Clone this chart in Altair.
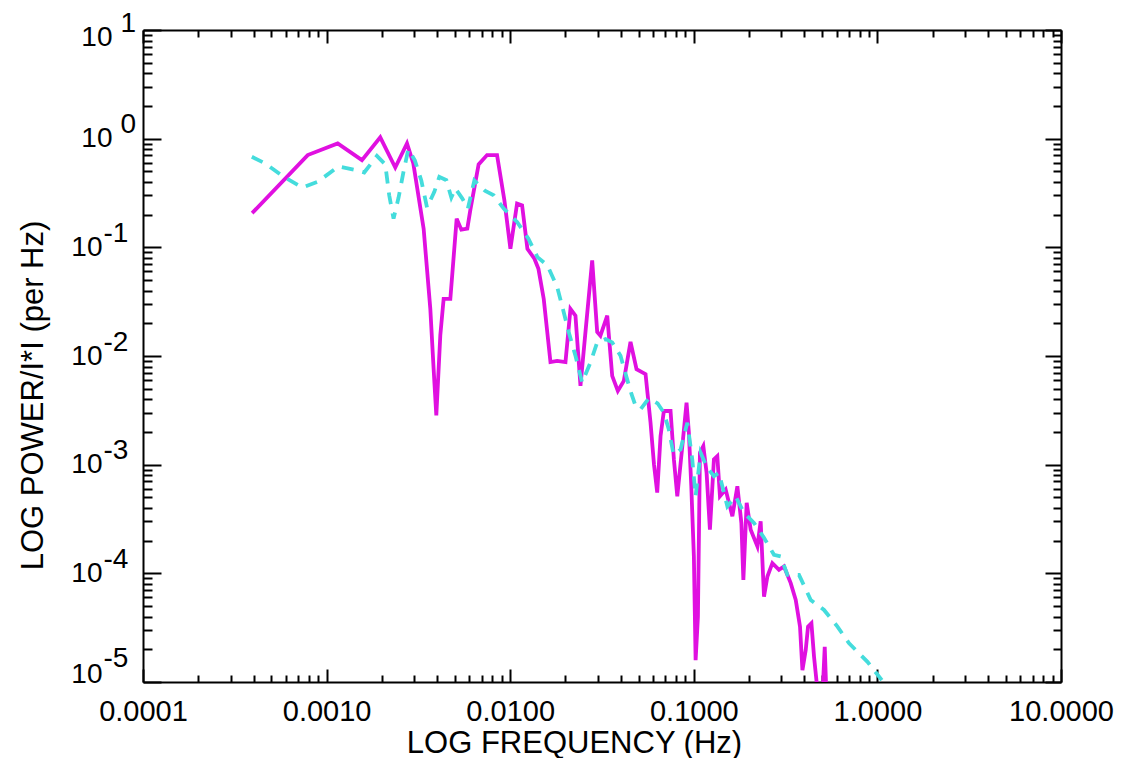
import altair as alt
import pandas as pd

# ---- data (frequency in Hz, power per Hz) ----
mag_freq = [0.000393, 0.000789, 0.001149, 0.001558, 0.00196, 0.002366, 0.002741, 0.002967, 0.003377, 0.003672,
            0.003828, 0.003959, 0.004163, 0.00434, 0.00472, 0.00511, 0.00542, 0.00584, 0.00607, 0.00673,
            0.00748, 0.00848, 0.0093, 0.010025, 0.0109, 0.01161, 0.01241, 0.01355, 0.01425, 0.01523,
            0.01657, 0.01802, 0.02, 0.02129, 0.02267, 0.02414, 0.0257, 0.02796, 0.02977, 0.031,
            0.03377, 0.03594, 0.03857, 0.04158, 0.04522, 0.04876, 0.0546, 0.0581, 0.0607, 0.0632,
            0.0659, 0.0687, 0.0747, 0.0779, 0.0813, 0.0866, 0.0913, 0.094, 0.0969, 0.1001,
            0.1023, 0.1053, 0.108, 0.1127, 0.1174, 0.1224, 0.1287, 0.1343, 0.1388, 0.1491,
            0.1622, 0.1727, 0.1816, 0.1862, 0.1941, 0.2041, 0.222, 0.2313, 0.2412, 0.2517,
            0.2679, 0.2911, 0.3099, 0.3372, 0.3591, 0.3789, 0.3905, 0.407, 0.419, 0.4372,
            0.4518, 0.4715, 0.5038, 0.5166, 0.5265]
mag_power = [0.2065, 0.706, 0.905, 0.634, 1.028, 0.543, 0.905, 0.591, 0.1485, 0.0271,
             0.00757, 0.002846, 0.0156, 0.03353, 0.03353, 0.1836, 0.1454, 0.1485, 0.2225, 0.579,
             0.706, 0.706, 0.2694, 0.0971, 0.2527, 0.2437, 0.0971, 0.0785, 0.0634, 0.0335,
             0.00879, 0.00903, 0.00879, 0.0271, 0.0235, 0.00531, 0.01662, 0.0757, 0.01662, 0.01537,
             0.0235, 0.00657, 0.00477, 0.0059, 0.01347, 0.00757, 0.00681, 0.002453, 0.001004, 0.000554,
             0.001833, 0.003119, 0.003119, 0.001117, 0.000512, 0.001482, 0.003728, 0.00197, 0.000633, 0.000143,
             1.59e-5, 3.99e-5, 0.001288, 0.001482, 0.000842, 0.000252, 0.001117, 0.001198, 0.000512, 0.00059,
             0.000335, 0.000633, 0.000291, 8.71e-5, 0.000445, 0.000252, 0.000177, 0.000301, 6.11e-5, 9.34e-5,
             0.0001242, 0.0001077, 0.0001156, 8.12e-5, 5.69e-5, 3.23e-5, 1.285e-5, 1.966e-5, 3.23e-5, 3.47e-5,
             1.705e-5, 8.4e-6, 8.4e-6, 2.11e-5, 8.4e-6]

cyan_freq = [0.0003916, 0.000463, 0.00058, 0.000736, 0.0009, 0.001157, 0.00145, 0.001603, 0.00188, 0.002087,
             0.002194, 0.002316, 0.002466, 0.002626, 0.002785, 0.003023, 0.00328, 0.003523, 0.003861, 0.004111,
             0.00449, 0.00478, 0.005026, 0.005489, 0.00588, 0.00638, 0.00732, 0.00813, 0.00922, 0.0109,
             0.01257, 0.01407, 0.01595, 0.01802, 0.01957, 0.02085, 0.02267, 0.02466, 0.02737, 0.02977,
             0.03304, 0.03594, 0.0399, 0.043, 0.0458, 0.0482, 0.0513, 0.0569, 0.0635, 0.0687,
             0.0731, 0.0776, 0.0847, 0.0922, 0.0981, 0.1023, 0.1089, 0.1184, 0.1287, 0.1371,
             0.1523, 0.169, 0.1876, 0.2127, 0.2412, 0.2734, 0.2974, 0.3235, 0.3742, 0.4335,
             0.5122, 0.6061, 0.7012, 0.8831, 1.057]
cyan_power = [0.682, 0.591, 0.4486, 0.3551, 0.4033, 0.5549, 0.513, 0.4884, 0.694, 0.579,
              0.2996, 0.1836, 0.2871, 0.499, 0.7965, 0.634, 0.4121, 0.2321, 0.324, 0.4457,
              0.4147, 0.2871, 0.3477, 0.2811, 0.2272, 0.4121, 0.3296, 0.3015, 0.2272, 0.1713,
              0.1201, 0.0813, 0.0681, 0.04327, 0.02527, 0.01651, 0.01004, 0.0057, 0.00873, 0.01335,
              0.01432, 0.01335, 0.01004, 0.00639, 0.00445, 0.00347, 0.00323, 0.00409, 0.00367, 0.00301,
              0.002113, 0.001242, 0.001382, 0.002437, 0.001117, 0.000512, 0.001288, 0.000936, 0.000783, 0.000842,
              0.000414, 0.000512, 0.00036, 0.000291, 0.0002127, 0.0001482, 0.000143, 9.68e-5, 9.68e-5, 5.69e-5,
              4.6e-5, 3.23e-5, 2.27e-5, 1.533e-5, 1.039e-5]

x_label_values = [0.0001, 0.001, 0.01, 0.1, 1.0, 10.0]
y_label_values = [1e-5, 1e-4, 1e-3, 1e-2, 1e-1, 1.0, 10.0]
x_tick_values = [m * 10.0 ** e for e in range(-4, 1) for m in range(1, 10)] + [10.0]
y_tick_values = [m * 10.0 ** e for e in range(-5, 1) for m in range(1, 10)] + [10.0]

x_title = "LOG FREQUENCY (Hz)"
y_title = "LOG POWER/I*I (per Hz)"

mag_df = pd.DataFrame({"freq": mag_freq, "power": mag_power})
cyan_df = pd.DataFrame({"freq": cyan_freq, "power": cyan_power})

FONT = "Liberation Sans"
MAG = "#e010e0"
CYAN = "#44dcdc"
W, H = 918, 652
MAJOR = "abs(log(datum.value)/LN10 - round(log(datum.value)/LN10)) < 0.01"
TOP = "datum.value > 5"
BOTTOM = "datum.value < 2e-5"

xs = alt.Scale(type="log", domain=[1e-4, 10], nice=False)
ys = alt.Scale(type="log", domain=[1e-5, 10], nice=False)

# bottom labels + title + bottom frame line
x_main = alt.Axis(orient="bottom", values=x_label_values, format=".4f", labelFont=FONT, labelFontSize=29,
                  labelColor="black", labelBaseline="alphabetic", labelPadding=38, labelFlush=False,
                  labelOverlap=False, ticks=False, tickSize=0, grid=False, domain=True,
                  domainColor="black", domainWidth=2, title=x_title, titleFont=FONT, titleFontSize=31,
                  titleFontWeight="normal", titleColor="black", titleX=431, titleY=70,
                  titleBaseline="alphabetic", titleAlign="center")
# inward ticks on the bottom edge
x_ticks_bottom = alt.Axis(orient="top", offset=-H, values=x_tick_values, labels=False, ticks=True,
                          tickSize={"condition": {"test": MAJOR, "value": 13}, "value": 7},
                          tickColor="black", tickWidth=2, domain=False, grid=False, title=None)
# inward ticks on the top edge + top frame line
x_ticks_top = alt.Axis(orient="bottom", offset=-H, values=x_tick_values, labels=False, ticks=True,
                       tickSize={"condition": {"test": MAJOR, "value": 13}, "value": 7},
                       tickColor="black", tickWidth=2, domain=True, domainColor="black", domainWidth=2,
                       grid=False, title=None)

# "10" part of the y labels + title + left frame line
y_main = alt.Axis(orient="left", values=y_label_values, labelExpr="'10'", labelFont=FONT, labelFontSize=28,
                  labelColor="black", labelAlign="right", labelBaseline="middle", labelFlush=False,
                  labelOverlap=False,
                  labelOffset={"condition": [{"test": TOP, "value": 7}, {"test": BOTTOM, "value": -8}],
                               "value": 0},
                  labelPadding={"condition": {"test": "datum.value >= 1", "value": 31}, "value": 41},
                  ticks=False, tickSize=0, grid=False, domain=True, domainColor="black", domainWidth=2,
                  title=y_title, titleFont=FONT, titleFontSize=31, titleFontWeight="normal",
                  titleColor="black", titleX=-110, titleY=365, titleAlign="center", titleBaseline="middle")
# exponent part of the y labels
y_exp = alt.Axis(orient="left", values=y_label_values,
                 labelExpr="'' + round(log(datum.value)/LN10)", labelFont=FONT, labelFontSize=28,
                 labelColor="black", labelAlign="left", labelBaseline="middle", labelFlush=False,
                 labelOverlap=False,
                 labelOffset={"condition": [{"test": TOP, "value": -7}, {"test": BOTTOM, "value": -24}],
                              "value": -14},
                 labelPadding={"condition": {"test": "datum.value >= 1", "value": 23}, "value": 40},
                 ticks=False, tickSize=0, grid=False, domain=False, title=None)
# inward ticks on the left edge
y_ticks_left = alt.Axis(orient="right", offset=-W, values=y_tick_values, labels=False, ticks=True,
                        tickSize={"condition": {"test": MAJOR, "value": 18}, "value": 9},
                        tickColor="black", tickWidth=2, domain=False, grid=False, title=None)
# inward ticks on the right edge + right frame line
y_ticks_right = alt.Axis(orient="left", offset=-W, values=y_tick_values, labels=False, ticks=True,
                         tickSize={"condition": {"test": MAJOR, "value": 16}, "value": 8},
                         tickColor="black", tickWidth=2, domain=True, domainColor="black", domainWidth=2,
                         grid=False, title=None)

mag_line = alt.Chart(mag_df).mark_line(color=MAG, strokeWidth=3.8, clip=True).encode(
    x=alt.X("freq:Q", scale=xs, axis=x_main),
    y=alt.Y("power:Q", scale=ys, axis=y_main),
)
cyan_line = alt.Chart(cyan_df).mark_line(color=CYAN, strokeWidth=3.8, strokeDash=[12, 9], clip=True).encode(
    x=alt.X("freq:Q", scale=xs, axis=x_ticks_bottom),
    y=alt.Y("power:Q", scale=ys, axis=y_exp),
)
frame_a = alt.Chart(mag_df).mark_line(opacity=0, clip=True).encode(
    x=alt.X("freq:Q", scale=xs, axis=x_ticks_top),
    y=alt.Y("power:Q", scale=ys, axis=y_ticks_left),
)
frame_b = alt.Chart(mag_df).mark_line(opacity=0, clip=True).encode(
    x=alt.X("freq:Q", scale=xs, axis=None),
    y=alt.Y("power:Q", scale=ys, axis=y_ticks_right),
)

chart = (
    alt.layer(mag_line, cyan_line, frame_a, frame_b)
    .resolve_axis(x="independent", y="independent")
    .properties(width=W, height=H,
                padding={"left": 135, "top": 22, "right": 54, "bottom": 76},
                autosize=alt.AutoSizeParams(type="none"),
                background="white")
    .configure_view(stroke=None)
)

chart.save("out.html", embed_options={"renderer": "svg", "actions": False})
